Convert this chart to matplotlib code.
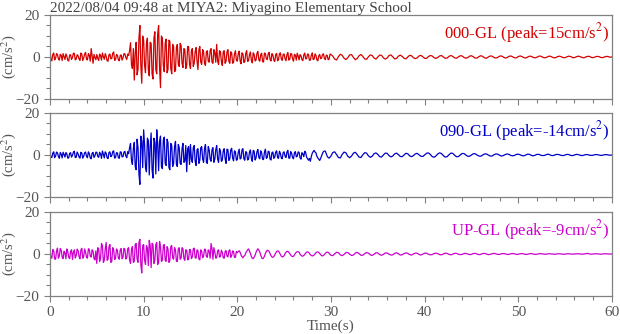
import numpy as np
import matplotlib.pyplot as plt

plt.rcParams['font.family'] = ['Liberation Serif', 'DejaVu Serif']
plt.rcParams['font.size'] = 11
plt.rcParams['mathtext.fontset'] = 'stix'

TITLE = '2022/08/04 09:48 at MIYA2: Miyagino Elementary School'
DT = 0.2        # step of the main hand-read samples (s)
T_DENSE = 30.0  # up to here an extra sample sits between each pair

# 000-GL, samples at 0.0, 0.2, ... (cm/s^2)
ns = [
    3.5, -1.8, 1.9, -0.6, 1.2, -1.5, 0.8, 1.6, -1.2, 0.4, -1.9, 1.1, -0.3, 1.7, -1.0, 0.6, -1.6, 1.3, -0.5, 2.2, -1.4, 0.9, 4.0, -3.0, -0.2,
    1.2, -1.7, 0.6, 1.9, -1.1, 0.3, -2.0, 1.4, -0.7, 2.4, -1.3, 0.8, -1.8, 1.0, -0.4, 1.5, -1.2, 0.7, 6.8, -5.5, -11.0, 7.0, -6.0, 15.0, -12.5,
    8.0, -7.5, 9.0, -9.0, 6.5, -10.5, 12.0, -8.0, 15.0, -14.6, 9.0, -7.0, 8.5, -6.0, 7.5, -8.0, 5.0, -6.5, 6.0, -4.5, 5.5, -5.0, 3.5, -4.0, 5.0,
    -5.5, 4.0, -3.0, 4.5, -6.0, 5.0, -3.5, 2.5, -4.0, 3.0, -2.5, 4.0, -3.0, 2.0, 6.0, -3.5, 2.5, -4.0, 3.0, -2.0, 3.5, -3.0, 2.0, -2.5, 3.0,
    -2.0, 2.8, -3.2, 1.5, -2.2, 3.0, -1.8, 2.4, -2.8, 1.2, -1.5, 2.6, -2.0, 1.8, -2.4, 1.6, -1.2, 2.2, -1.9, 1.0, -2.1, 1.7, -1.3, 2.0, -1.6,
    1.4, -1.8, 2.1, -1.1, 1.5, -2.0, 0.9, 1.8, -1.4, 0.6, -1.7, 1.9, -0.8, 1.3, -1.5, 2.0, -1.0, 0.7, -1.8, 1.2, -0.6, 1.5, -1.3, 0.8, -1.1,
    1.2, 0.4, -1.0, -1.4, 0.2, 1.3, 0.8, -0.6, -1.2, -0.3, 1.0, 1.1, -0.2, -1.3, -0.7, 0.6, 1.2, 0.3, -0.9, -1.1, 0.1, 1.0, 0.7, -0.5, -1.0,
    0.0, 0.9, 0.8, -0.4, -1.0, -0.5, 0.7, 1.0, 0.1, -0.9, -0.7, 0.4, 0.9, 0.3, -0.6, -0.9, 0.0, 0.8, 0.6, -0.3, -0.8, -0.4, 0.5, 0.8, 0.1,
    -0.6, -0.7, 0.2, 0.7, 0.5, -0.3, -0.7, -0.2, 0.5, 0.7, 0.0, -0.6, -0.5, 0.3, 0.7, 0.3, -0.4, -0.6, 0.0, 0.6, 0.5, -0.2, -0.6, -0.3, 0.4,
    0.6, 0.1, -0.5, -0.5, 0.2, 0.6, 0.3, -0.4, -0.6, 0.0, 0.5, 0.4, -0.2, -0.5, -0.2, 0.4, 0.5, 0.0, -0.5, -0.3, 0.3, 0.5, 0.1, -0.4, -0.4,
    0.2, 0.5, 0.2, -0.3, -0.5, 0.0, 0.4, 0.3, -0.2, -0.4, -0.1, 0.4, 0.4, -0.1, -0.4, -0.2, 0.3, 0.4, 0.0, -0.4, -0.3, 0.2, 0.4, 0.1, -0.3,
    -0.3, 0.1, 0.4, 0.2, -0.3, -0.3, 0.1, 0.4, 0.2, -0.2, -0.4, 0.0, 0.3, 0.3, -0.2, -0.3, 0.0, 0.3, 0.2, -0.2, -0.3, 0.0, 0.3, 0.2, -0.1,
    0.0,
]
# 000-GL, in-between samples at 0.1, 0.3, ... 29.9
ns_mid = [
    -1.5, 1.2, -1.4, 1.6, -0.8, 1.3, -1.7, 0.2, 1.5, -1.6, 0.9, -1.2, 1.8, -1.4, 1.1, -0.9, 1.9, -1.7, 1.4, -1.1, 1.6, -2.0, 0.5, 1.2, -1.3,
    -0.6, 1.4, -1.5, 0.2, 1.6, -1.8, 1.1, -0.9, 1.8, -1.6, 1.2, -1.3, 0.7, -1.5, 1.6, -0.3, 1.4, 3.0, -3.5, 4.0, 2.0, -8.5, 9.0, -4.0, 10.0,
    -4.0, 6.5, -6.0, 7.0, -8.0, 9.0, -6.0, 11.0, -5.0, 10.0, -4.0, 6.5, -7.5, 8.0, -5.5, 6.0, -7.0, 4.5, -3.5, 6.5, -3.0, 4.0, -5.5, 5.0, -3.5,
    3.0, -4.5, 2.5, -2.0, 3.5, -2.5, 3.5, -3.0, 2.5, -2.0, 3.0, -2.5, 3.5, -2.5, -2.0, 3.0, -2.0, 2.5, -3.0, 2.5, -2.0, 2.5, -3.0, 1.5, -1.5,
    1.5, -1.8, 2.0, -2.6, 1.7, -2.1, 1.2, -1.5, 2.0, -1.9, 1.8, -1.4, 1.1, -2.2, 1.9, -0.9, 1.5, -1.2, 1.6, -1.5, 1.2, -1.8, 1.5, -1.0, 1.3,
    -0.8, 1.2, -1.5, 1.6, -0.9, 1.3, -1.5, 0.4, 1.1, -1.3, 1.0, -0.9, 1.4, -1.6, 0.8, -1.2, 1.5, -1.4, 0.6, -0.8, 1.2, -0.7, 0.9, -1.3, 1.4,
]

# 090-GL
ew = [
    0.8, -1.2, 1.5, -0.5, 1.0, -1.6, 0.4, 1.3, -1.0, 0.6, -1.4, 1.1, -0.2, 1.8, -1.1, 0.5, -1.5, 0.9, -0.6, 1.4, -1.3, 0.7, -1.8, 1.2, -0.4,
    1.3, -1.1, 0.5, 1.9, -1.4, 0.8, -1.7, 1.5, -0.3, 2.0, -1.2, 1.0, -1.6, 1.4, -0.8, 1.7, -1.3, 0.6, 5.5, -4.5, 6.0, -7.0, 3.5, -14.0, 6.5,
    12.0, -6.0, 8.0, -9.5, 10.5, -11.0, 6.0, 12.0, -7.5, 9.0, -6.5, 8.5, -5.0, 6.0, -7.0, 4.5, -4.0, 6.5, -5.5, 3.5, -4.5, 5.5, -3.0, -8.0, 4.0,
    5.0, -3.5, 4.5, -5.0, 3.0, -2.5, 4.0, -3.5, 5.0, -4.0, 2.5, -3.0, 3.5, -2.0, 4.5, -3.5, 2.0, -2.5, 3.0, -4.0, 2.5, -1.8, 3.2, -2.8, 1.5,
    -2.2, 2.8, -1.6, 3.0, -2.5, 1.2, -2.0, 2.4, -3.0, 1.8, -1.4, 2.6, -1.8, 1.0, -2.2, 2.8, -1.2, 1.6, -2.4, 1.4, -1.0, 2.0, -1.6, 0.8, -1.8,
    1.5, -1.2, 2.2, -1.5, 0.8, -1.8, 1.6, -0.6, 1.2, -2.0, 0.5, 1.8, -1.0, -2.5, -3.0, 0.8, 2.2, 1.0, -1.4, -2.6, -0.4, 1.6, 1.8, -0.6, -1.5,
    -0.5, 1.2, 1.5, 0.2, -1.2, -1.4, 0.3, 1.4, 1.0, -0.6, -1.3, -0.5, 0.9, 1.3, 0.2, -1.0, -1.2, 0.1, 1.1, 0.9, -0.4, -1.1, -0.6, 0.6, 1.0,
    0.3, -0.8, -1.0, 0.0, 0.9, 0.8, -0.3, -0.9, -0.5, 0.5, 0.9, 0.2, -0.7, -0.8, 0.0, 0.8, 0.6, -0.4, -0.8, -0.3, 0.5, 0.8, 0.1, -0.6, -0.7,
    0.0, 0.8, 1.0, 0.3, -0.7, -1.1, -0.5, 0.5, 1.0, 0.7, -0.3, -1.0, -0.8, 0.1, 0.9, 0.8, -0.1, -0.8, -0.8, 0.0, 0.7, 0.7, 0.0, -0.6, -0.6,
    0.0, 0.6, 0.6, 0.0, -0.5, -0.6, 0.0, 0.5, 0.5, 0.0, -0.5, -0.5, 0.1, 0.5, 0.4, -0.1, -0.5, -0.3, 0.2, 0.5, 0.3, -0.2, -0.4, -0.2, 0.3,
    0.4, 0.1, -0.3, -0.4, 0.0, 0.4, 0.3, -0.2, -0.4, -0.1, 0.3, 0.3, -0.1, -0.3, -0.2, 0.2, 0.4, 0.0, -0.3, -0.2, 0.2, 0.3, 0.1, -0.2, -0.3,
    0.0, 0.3, 0.2, -0.2, -0.3, 0.0, 0.3, 0.2, -0.1, -0.3, -0.1, 0.2, 0.2, -0.1, -0.2, -0.1, 0.2, 0.2, 0.0, -0.2, -0.1, 0.1, 0.2, 0.0, -0.1,
    0.0,
]
ew_mid = [
    -1.1, 0.9, -1.3, 1.4, -0.7, 1.2, -1.4, 0.3, 1.2, -1.5, 0.8, -1.0, 1.3, -1.2, 1.4, -0.9, 1.3, -1.5, 1.1, -0.6, 1.5, -1.4, 0.8, -1.2, 1.3,
    -0.7, 1.3, -1.6, 0.4, 1.5, -1.3, 1.2, -0.8, 1.6, -1.5, 1.1, -1.2, 1.5, -0.9, 1.3, -0.5, 1.6, 3.5, -2.5, 3.0, -5.5, 7.5, -9.0, 9.0, -6.0,
    5.0, -8.0, 7.0, 4.0, -7.0, 8.0, -9.0, 5.0, 6.5, -5.5, 7.0, -4.0, 7.5, -6.0, 5.5, -5.5, 4.0, -4.5, 5.0, -4.0, 3.0, -3.5, 4.5, 3.0, -4.5,
    -2.0, 3.5, -3.0, 2.5, -4.0, 3.5, -2.0, 3.0, -3.5, 4.0, -2.0, 2.5, -3.5, 2.5, -2.0, 3.0, -3.0, 2.0, -1.8, 2.8, -2.6, 2.4, -1.5, 2.0, -2.5,
    1.2, -1.9, 2.4, -1.8, 1.6, -2.4, 1.4, -1.5, 2.2, -2.4, 1.6, -1.2, 2.0, -2.0, 1.4, -1.6, 1.8, -2.0, 1.2, -1.6, 1.4, -1.2, 1.8, -1.4, 1.2,
    -0.6, 1.4, -1.5, 1.6, -1.2, 1.0, -0.9, 1.5, -1.3, 1.1, -0.8, 1.2, -1.8, -1.6, -0.8, 1.6, 1.4, -0.6, -2.0, -1.6, 0.8, 1.9, 0.6, -1.2, -1.0,
]

# UP-GL
ud = [
    2.5, -2.0, 1.5, -2.5, 2.8, -1.0, 1.8, -2.2, 0.5, 2.4, -1.6, 1.2, -2.6, 2.0, -0.8, 1.6, -2.3, 2.7, -1.2, 0.9, -2.0, 2.2, -1.5, 1.3, -2.8,
    -4.5, 2.5, -2.0, 4.0, -3.0, 5.5, -2.5, 4.5, -3.5, 2.0, -2.2, 1.8, -2.5, 2.6, -1.5, 2.2, -1.8, 3.0, -4.5, 3.5, -3.5, 5.0, -4.0, 7.0, -9.0,
    4.5, -5.0, 3.0, 6.5, -6.5, 4.5, -3.0, 5.5, -4.0, 3.5, -3.0, 4.5, -3.5, 2.5, -3.0, 4.0, -2.5, 2.0, -3.5, 3.0, -2.0, 2.5, -3.0, 1.8, -2.5,
    2.0, -1.5, 2.8, -2.0, 1.5, -2.8, 1.2, -1.0, 2.2, -1.6, 1.4, 5.0, -2.5, 1.0, -1.8, 2.0, -1.2, 0.8, -2.0, 1.6, -1.4, 2.0, -0.8, 1.2, -1.6,
    0.6, 1.5, -0.5, -1.8, -0.8, 1.2, 2.4, 0.3, -2.0, -1.5, 0.8, 2.5, 1.0, -1.8, -2.0, 0.2, 1.8, 1.2, -0.8, -1.6, -0.4, 1.2, 1.4, -0.3, -1.4,
    -0.8, 0.8, 1.3, 0.2, -1.0, -1.1, 0.3, 1.1, 0.8, -0.6, -1.0, -0.2, 0.9, 0.8, -0.3, -0.9, -0.5, 0.6, 1.0, 0.2, -0.8, -0.7, 0.3, 0.9, 0.4,
    -0.6, -0.8, 0.1, 0.8, 0.6, -0.4, -0.8, -0.2, 0.7, 0.7, -0.1, -0.7, -0.5, 0.4, 0.8, 0.2, -0.6, -0.6, 0.2, 0.7, 0.4, -0.4, -0.7, -0.1, 0.6,
    0.5, -0.3, -0.6, -0.2, 0.5, 0.5, -0.1, -0.5, -0.4, 0.3, 0.6, 0.1, -0.5, -0.4, 0.2, 0.5, 0.3, -0.3, -0.5, 0.0, 0.4, 0.4, -0.2, -0.5, -0.1,
    0.4, 0.4, -0.1, -0.4, -0.3, 0.2, 0.4, 0.2, -0.3, -0.4, 0.0, 0.4, 0.3, -0.2, -0.4, -0.1, 0.3, 0.3, -0.1, -0.3, -0.2, 0.2, 0.3, 0.0, -0.3,
    -0.2, 0.2, 0.3, 0.0, -0.3, -0.2, 0.2, 0.3, 0.0, -0.3, -0.2, 0.1, 0.3, 0.1, -0.2, -0.2, 0.1, 0.2, 0.1, -0.2, -0.2, 0.1, 0.2, 0.1, -0.2,
    -0.1, 0.1, 0.2, 0.0, -0.2, -0.1, 0.1, 0.2, 0.0, -0.2, -0.1, 0.1, 0.2, 0.0, -0.1, -0.1, 0.1, 0.1, 0.0, -0.1, -0.1, 0.1, 0.1, 0.0, -0.1,
    -0.1, 0.1, 0.1, 0.0, -0.1, 0.0, 0.1, 0.1, 0.0, -0.1, 0.0, 0.1, 0.3, 0.0, -0.1, 0.0, 0.1, 0.1, 0.0, -0.1, 0.0, 0.1, 0.1, 0.0, 0.0,
    0.0,
]
ud_mid = [
    -1.8, 2.1, -2.4, 1.4, -2.0, 2.6, -1.5, 1.3, -2.3, 1.1, -2.2, 2.0, 0.8, -1.9, 2.3, -1.2, 1.9, -2.0, 2.4, -1.6, 2.5, -1.1, 2.0, -2.2, 1.5,
    3.0, -3.5, 5.0, -4.0, 2.5, -3.0, 3.5, -4.0, 3.0, -2.6, 2.4, -2.0, 1.9, -2.3, 2.7, -2.4, 2.5, -3.0, 2.0, -4.0, 4.5, -2.5, 5.5, -5.0, 4.0,
    -3.0, 4.0, -5.5, 4.0, 5.0, -4.5, 4.5, -5.0, 6.0, -3.5, 4.0, -3.0, 3.5, -4.0, 3.5, -2.0, 3.0, -3.5, 2.5, -2.5, 3.0, -2.2, 2.0, -2.8, 2.2,
    -2.2, 2.5, -1.8, 2.0, -2.4, 2.0, -1.8, 2.3, -1.2, 2.0, -2.0, 2.5, 3.0, -2.0, 1.5, -1.5, 1.8, -1.8, 1.2, -1.0, 1.5, -1.6, 1.5, -1.6, 1.2,
    1.2, 0.8, -1.3, -1.0, 0.5, 2.0, 1.4, -1.2, -2.2, -0.6, 1.8, 1.8, -0.5, -2.2, -1.0, 1.2, 1.6, 0.2, -1.4, -1.2, 0.5, 1.4, 0.6, -1.0, -1.2,
    0.2, 1.2, 0.8, -0.5, -1.2, -0.4, 0.8, 1.1, -0.1, -1.0, -0.7, 0.4, 1.0, 0.3, -0.7, -0.8, 0.1, 0.9, 0.7, -0.3, -0.9, -0.2, 0.7, 0.8, -0.2,
]

traces = [(ns, ns_mid), (ew, ew_mid), (ud, ud_mid)]
labels = ['000-GL (peak=15cm/s$^2$)', '090-GL (peak=-14cm/s$^2$)', 'UP-GL (peak=-9cm/s$^2$)']
colors = ['#d40000', '#0000c8', '#cc00cc']

GRAY = '#808080'
TXT = '#555555'


def merge(main, mid):
    # put each in-between sample after its main sample, up to T_DENSE
    n = len(mid)
    y = np.empty(2 * n)
    y[0::2] = main[:n]
    y[1::2] = mid
    y = np.concatenate([y, main[n:]])
    t = np.concatenate([np.arange(2 * n) * DT / 2, T_DENSE + np.arange(len(main) - n) * DT])
    return t, y


fig = plt.figure(figsize=(6.2, 3.34), dpi=100)
bottoms = [0.7036, 0.4102, 0.1138]
axes = [fig.add_axes([0.0806, b, 0.9064, 0.2515]) for b in bottoms]

for ax, (main, mid), lab, c in zip(axes, traces, labels, colors):
    t, y = merge(main, mid)
    ax.plot(t, y, color=c, lw=0.9)
    ax.set_xlim(0, 60)
    ax.set_ylim(-20, 20)
    ax.set_yticks([-20, 0, 20])
    ax.set_yticks(np.arange(-20, 21, 5), minor=True)
    ax.set_xticks(np.arange(0, 61, 10))
    ax.set_xticks(np.arange(0, 61, 2), minor=True)
    ax.tick_params(which='both', direction='out', color=GRAY, labelcolor=TXT, labelsize=11)
    ax.tick_params(which='major', length=4, width=0.8)
    ax.tick_params(which='minor', length=3, width=0.8)
    for sp in ax.spines.values():
        sp.set_color(GRAY)
        sp.set_linewidth(0.9)
    ax.set_ylabel('(cm/s$^2$)', color=TXT, fontsize=10.5)
    ax.yaxis.set_label_coords(-0.057, 0.5)
    ax.text(0.995, 0.93, lab, transform=ax.transAxes, ha='right', va='top', color=c, fontsize=12)

for ax in axes[:2]:
    ax.tick_params(labelbottom=False)
axes[2].set_xlabel('Time(s)', color=TXT, fontsize=11, labelpad=0)
axes[0].set_title(TITLE, loc='left', color='#444444', fontsize=11, pad=2)

fig.savefig('out.png', dpi=100)
